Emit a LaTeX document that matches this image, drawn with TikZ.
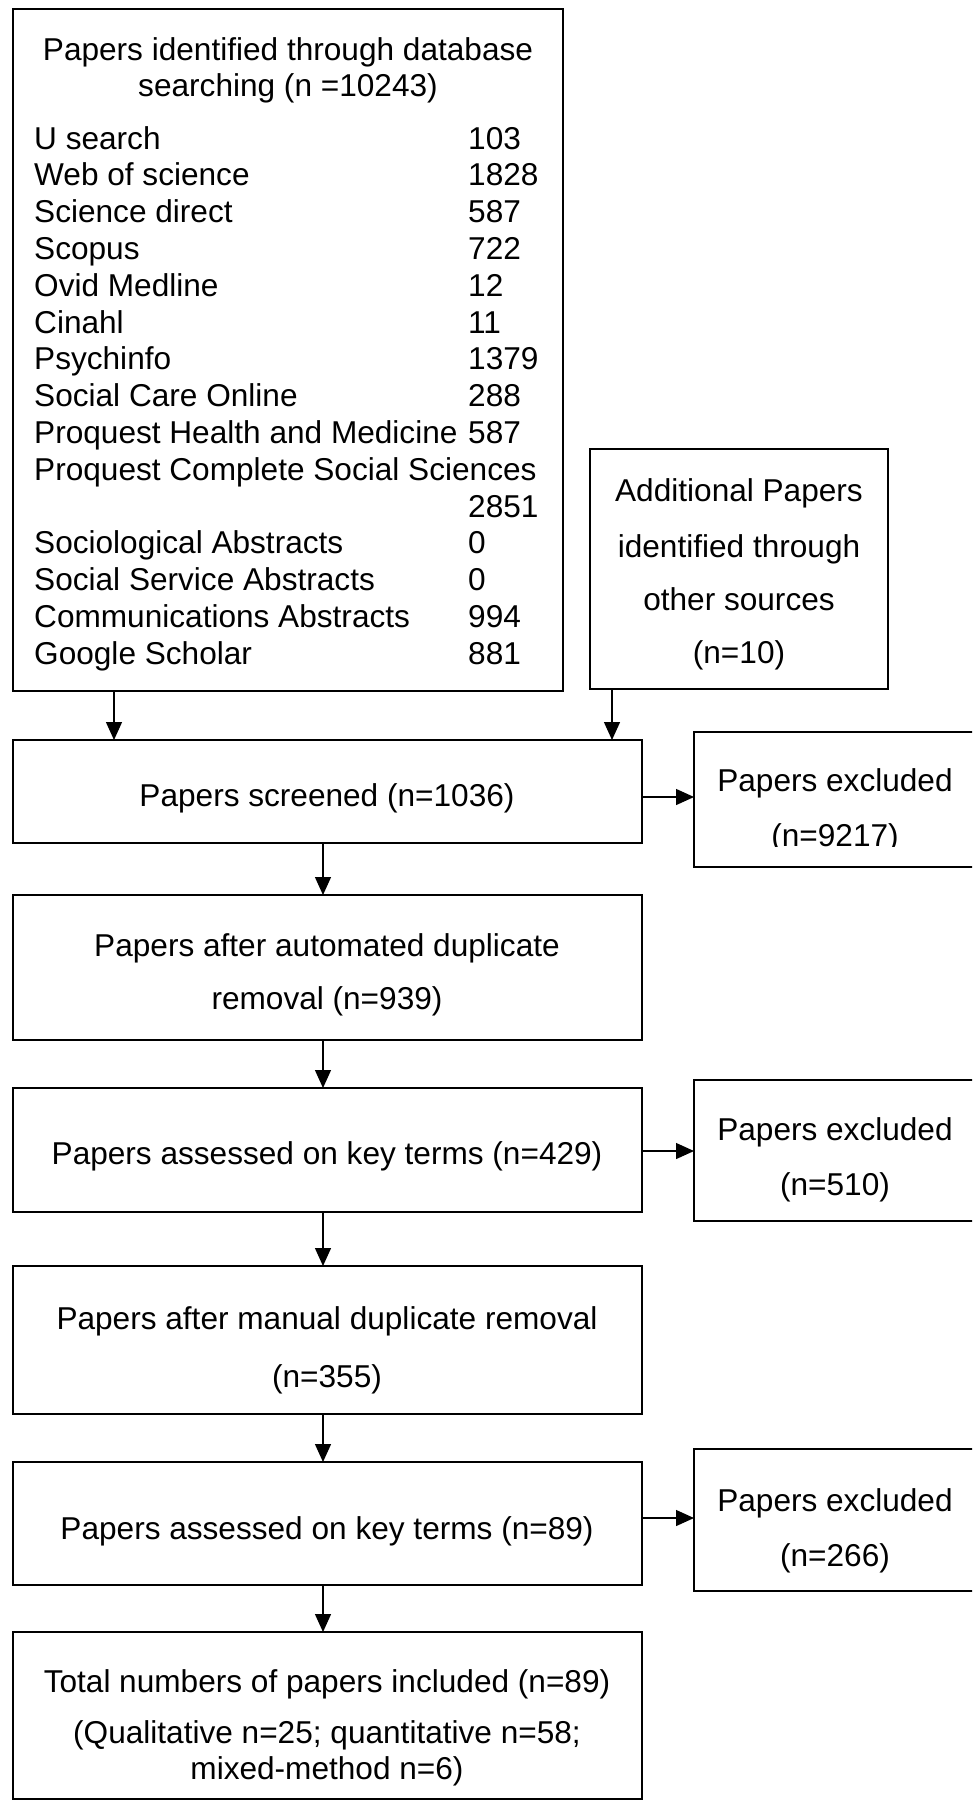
\documentclass[tikz,border=0pt]{standalone}
\usepackage{fontspec}
\setmainfont{Liberation Sans}
\usetikzlibrary{arrows.meta}
\begin{document}
\begin{tikzpicture}[x=1pt,y=-1pt,
  box/.style={draw=black, line width=1.6pt, inner sep=0pt, outer sep=0pt, rectangle, anchor=north west},
  txt/.style={inner sep=0pt, anchor=base, font=\fontsize{31.6}{38}\selectfont},
  lbl/.style={inner sep=0pt, anchor=base west, font=\fontsize{31.6}{38}\selectfont},
  arr/.style={line width=1.3pt, -{Triangle[length=18pt,width=16pt]}}]
% page frame
\clip (0,0) rectangle (972,1802);
\fill[white] (0,0) rectangle (972,1802);

% boxes
\node[box, minimum width=550pt, minimum height=682pt] (db)   at (13,9)    {};
\node[box, minimum width=298pt, minimum height=240pt] (add)  at (590,449) {};
\node[box, minimum width=629pt, minimum height=103pt] (scr)  at (13,740)  {};
\node[box, minimum width=282pt, minimum height=135pt] (ex1)  at (694,732) {};
\node[box, minimum width=629pt, minimum height=145pt] (auto) at (13,895)  {};
\node[box, minimum width=629pt, minimum height=124pt] (key1) at (13,1088) {};
\node[box, minimum width=282pt, minimum height=141pt] (ex2)  at (694,1080) {};
\node[box, minimum width=629pt, minimum height=148pt] (man)  at (13,1266) {};
\node[box, minimum width=629pt, minimum height=123pt] (key2) at (13,1462) {};
\node[box, minimum width=282pt, minimum height=142pt] (ex3)  at (694,1449) {};
\node[box, minimum width=629pt, minimum height=167pt] (tot)  at (13,1632) {};

% database search box
\node[txt] (dbt1) at (288,60) {Papers identified through database};
\node[txt] (dbt2) at (288,96) {searching (n =10243)};
\foreach \name/\val [count=\i from 0] in {
  U search/103, Web of science/1828, Science direct/587, Scopus/722,
  Ovid Medline/12, Cinahl/11, Psychinfo/1379, Social Care Online/288,
  Proquest Health and Medicine/587, Proquest Complete Social Sciences/,
  /2851, Sociological Abstracts/0, Social Service Abstracts/0,
  Communications Abstracts/994, Google Scholar/881}{
  \node[lbl] (r\i) at (34,{149+36.8*\i}) {\name};
  \node[lbl] (v\i) at (468,{149+36.8*\i}) {\val};
}

% other sources
\node[txt] (add1) at (739,501) {Additional Papers};
\node[txt] (add2) at (739,557) {identified through};
\node[txt] (add3) at (739,610) {other sources};
\node[txt] (add4) at (739,663) {(n=10)};

% main column
\node[txt] (scrt) at (327,806) {Papers screened (n=1036)};
\node[txt] (autot1) at (327,956) {Papers after automated duplicate};
\node[txt] (autot2) at (327,1009) {removal (n=939)};
\node[txt] (key1t) at (327,1164) {Papers assessed on key terms (n=429)};
\node[txt] (mant1) at (327,1329) {Papers after manual duplicate removal};
\node[txt] (mant2) at (327,1387) {(n=355)};
\node[txt] (key2t) at (327,1539) {Papers assessed on key terms (n=89)};
\node[txt] (tott1) at (327,1692) {Total numbers of papers included (n=89)};
\node[txt] (tott2) at (327,1743) {(Qualitative n=25; quantitative n=58;};
\node[txt] (tott3) at (327,1779) {mixed-method n=6)};

% exclusion boxes
\begin{scope}
  \clip (694,732) rectangle (976,846);
  \node[txt] (ex1t1) at (835,791) {Papers excluded};
  \node[txt] (ex1t2) at (835,846) {(n=9217)};
\end{scope}
\node[txt] (ex2t1) at (835,1140) {Papers excluded};
\node[txt] (ex2t2) at (835,1195) {(n=510)};
\node[txt] (ex3t1) at (835,1511) {Papers excluded};
\node[txt] (ex3t2) at (835,1566) {(n=266)};

% connectors
\coordinate (xa) at (114,0);
\coordinate (xb) at (612,0);
\coordinate (xc) at (323,0);
\coordinate (ya) at (0,797);
\coordinate (yb) at (0,1151);
\coordinate (yc) at (0,1518);
\draw[arr] (xa |- db.south) -- (xa |- scr.north);
\draw[arr] (xb |- add.south) -- (xb |- scr.north);
\draw[arr] (ya -| scr.east) -- (ya -| ex1.west);
\draw[arr] (xc |- scr.south) -- (xc |- auto.north);
\draw[arr] (xc |- auto.south) -- (xc |- key1.north);
\draw[arr] (yb -| key1.east) -- (yb -| ex2.west);
\draw[arr] (xc |- key1.south) -- (xc |- man.north);
\draw[arr] (xc |- man.south) -- (xc |- key2.north);
\draw[arr] (yc -| key2.east) -- (yc -| ex3.west);
\draw[arr] (xc |- key2.south) -- (xc |- tot.north);
\end{tikzpicture}
\end{document}
